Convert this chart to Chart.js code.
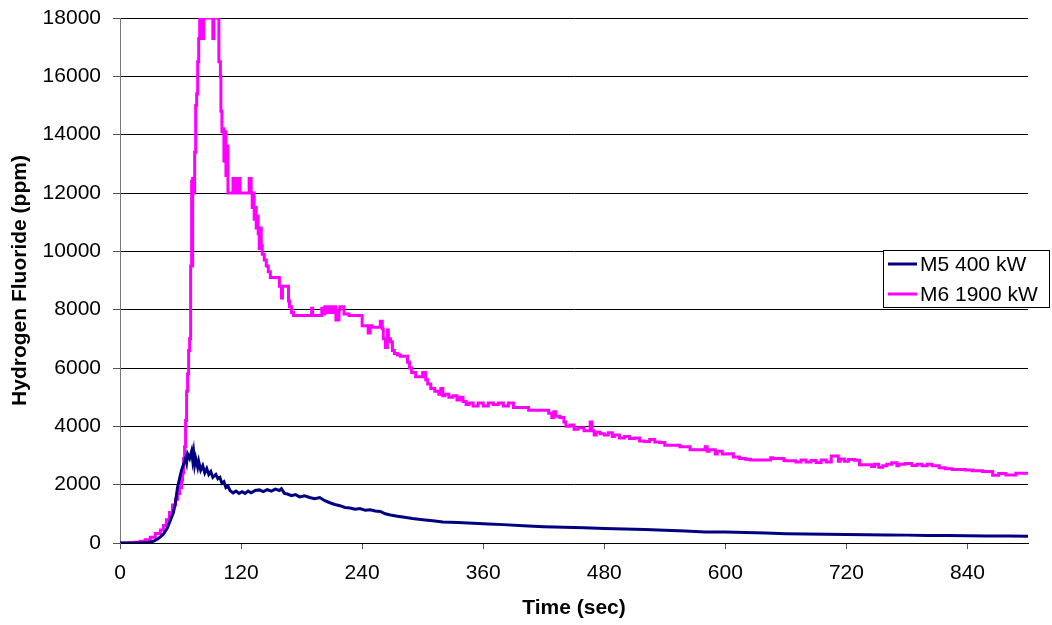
<!DOCTYPE html>
<html>
<head>
<meta charset="utf-8">
<script src="https://cdn.jsdelivr.net/npm/chart.js@4/dist/chart.umd.min.js"></script>
<style>
  html, body { margin: 0; padding: 0; background: #fff; }
  #wrap { width: 1052px; height: 625px; }
</style>
</head>
<body>
<div id="wrap"><canvas id="hfChart" width="1052" height="625"></canvas></div>
<script>
// M5 400 kW (navy)
const m5Time = [0, 20, 28, 33, 38, 43, 47, 50, 53, 55, 57, 59, 61, 63, 65, 66, 67, 69, 71, 72, 73, 74, 75, 77, 78, 80,
  82, 84, 86, 88, 90, 92, 95, 97, 99, 101, 103, 105, 107, 109, 112, 115, 118, 121, 124, 127, 130, 134, 138, 142,
  146, 150, 154, 158, 160, 163, 166, 170, 174, 178, 183, 188, 193, 198, 203, 208, 213, 218, 223, 228, 233, 238,
  243, 248, 253, 258, 263, 268, 275, 282, 290, 300, 310, 320, 335, 350, 365, 380, 400, 420, 440, 460, 480, 500,
  520, 540, 560, 580, 600, 620, 640, 660, 680, 700, 720, 740, 760, 780, 800, 820, 840, 860, 880, 900];
const m5Ppm = [0, 0, 20, 60, 150, 300, 520, 780, 1050, 1400, 1900, 2200, 2500, 2700, 2900, 2750, 3050, 2900, 3150, 2850,
  3100, 2700, 2900, 2600, 2800, 2500, 2650, 2400, 2550, 2350, 2450, 2250, 2350, 2200, 2250, 2050, 2100, 1900,
  1950, 1800, 1720, 1780, 1700, 1760, 1700, 1780, 1720, 1800, 1820, 1760, 1830, 1780, 1850, 1800, 1860, 1700,
  1680, 1620, 1660, 1580, 1620, 1560, 1520, 1560, 1450, 1380, 1320, 1280, 1220, 1200, 1160, 1180, 1120, 1140,
  1100, 1080, 1000, 960, 920, 880, 840, 800, 760, 720, 700, 680, 650, 630, 590, 560, 540, 520, 500, 480, 460,
  440, 410, 380, 380, 360, 340, 320, 310, 300, 290, 280, 275, 270, 260, 255, 250, 240, 240, 235];

// M6 1900 kW (magenta)
const m6Time = [0, 10, 15, 20, 25, 30, 35, 40, 43, 46, 49, 52, 55, 57, 59, 61, 62, 63, 64, 65, 66, 67, 68, 69, 70, 71,
  71.5, 72, 73, 74, 75, 76,
  77, 78, 79, 80, 82, 83, 84, 92, 93, 94, 98, 99.5, 100, 101, 102, 103, 104, 105, 106, 107, 108, 112, 113, 114,
  116, 117, 119, 120, 128, 130, 131, 132, 133, 134, 135, 136, 137, 138, 139, 140, 141, 143, 145, 147, 149, 151,
  158, 160, 161, 162, 167, 168, 170, 172, 175, 190, 191, 193, 200, 201, 203, 205, 207, 209, 212, 214, 217, 218,
  222, 227, 230, 240, 242, 246, 248, 250, 258, 260, 261, 263, 265, 266, 268, 270, 272, 275, 278, 285, 287, 289,
  293, 295, 300, 303, 305, 308, 312, 316, 318, 320, 322, 326, 330, 334, 337, 340, 343, 346, 350, 355, 360, 365,
  370, 375, 380, 385, 390, 393, 405, 406, 425, 428, 430, 432, 436, 440, 442, 446, 450, 454, 460, 466, 468, 470,
  472, 476, 480, 484, 488, 490, 495, 500, 505, 510, 515, 520, 525, 530, 535, 540, 545, 555, 565, 568, 580, 582,
  584, 590, 592, 597, 602, 608, 614, 620, 625, 630, 645, 647, 658, 660, 670, 675, 680, 685, 690, 695, 700, 705,
  712, 714, 718, 722, 728, 733, 736, 745, 748, 752, 756, 760, 765, 770, 772, 778, 785, 790, 795, 800, 805, 812,
  818, 825, 838, 845, 855, 865, 871, 878, 884, 888, 891, 900];
const m6Ppm = [0, 0, 10, 30, 60, 110, 200, 330, 450, 600, 800, 1050, 1300, 1500, 1700, 1900, 2150, 2400, 2900, 3300,
  4200, 5200, 5800, 6600, 7000, 9500,
  12400, 9500, 12500, 12000, 13400, 15000, 15400, 16500, 17300, 18000, 18000, 17300, 18000, 18000, 17300, 18000,
  18000, 16500, 16000, 14800, 14100, 14200, 13100, 14100, 12600, 13600, 12000, 12000, 12500, 12000, 12500, 12000,
  12500, 12000, 12000, 12500, 12000, 11500, 12000, 11100, 11500, 10800, 11200, 10600, 10100, 10800, 10200, 9900,
  9700, 9500, 9300, 9100, 9100, 8800, 8400, 8800, 8800, 8300, 8100, 7900, 7800, 7800, 8050, 7800, 7800, 8050,
  7850, 8100, 7900, 8100, 7900, 8100, 7650, 8000, 8100, 7850, 7800, 7800, 7450, 7450, 7200, 7450, 7400, 7600,
  7350, 7000, 6700, 7300, 7000, 6900, 6600, 6500, 6450, 6400, 6200, 6000, 5850, 5700, 5700, 5850, 5600, 5450,
  5300, 5200, 5100, 5300, 5050, 5100, 5000, 5050, 4900, 5000, 4850, 4750, 4800, 4700, 4800, 4700, 4800, 4750,
  4800, 4700, 4800, 4650, 4650, 4550, 4550, 4450, 4300, 4500, 4350, 4300, 4150, 4000, 4050, 3900, 3950, 3850,
  4150, 3850, 3700, 3800, 3750, 3700, 3780, 3650, 3700, 3600, 3650, 3580, 3600, 3500, 3480, 3550, 3460, 3450,
  3350, 3350, 3300, 3200, 3200, 3300, 3150, 3200, 3050, 3150, 3050, 3060, 2950, 2900, 2870, 2850, 2850, 2920,
  2900, 2830, 2820, 2780, 2850, 2780, 2830, 2760, 2850, 2780, 2980, 2800, 2880, 2800, 2860, 2840, 2680, 2680,
  2620, 2700, 2600, 2650, 2700, 2750, 2650, 2700, 2730, 2660, 2700, 2650, 2700, 2650, 2580, 2550, 2520, 2500,
  2480, 2450, 2320, 2380, 2330, 2330, 2390, 2390];

const xTicks = [0, 120, 240, 360, 480, 600, 720, 840];
const yTicks = [0, 2000, 4000, 6000, 8000, 10000, 12000, 14000, 16000, 18000];

const toPoints = (t, v) => t.map((x, i) => ({ x: x, y: v[i] }));

// legend box sitting over the right part of the plot, like the original
const boxLegend = {
  id: 'boxLegend',
  afterDraw(chart) {
    const c = chart.ctx;
    const left = 883, top = 250, right = 1050, bottom = 308;
    c.save();
    c.fillStyle = '#fff';
    c.fillRect(left, top, right - left, bottom - top);
    c.strokeStyle = '#000';
    c.lineWidth = 1;
    c.strokeRect(left + 0.5, top + 0.5, right - left - 1, bottom - top - 1);
    c.font = '21px "Liberation Sans", Arial, sans-serif';
    c.textBaseline = 'middle';
    chart.data.datasets.forEach((ds, i) => {
      const y = 264 + i * 30;
      c.strokeStyle = ds.borderColor;
      c.lineWidth = 3;
      c.beginPath();
      c.moveTo(888, y);
      c.lineTo(917, y);
      c.stroke();
      c.fillStyle = '#000';
      c.fillText(ds.label, 920, y + 1);
    });
    c.restore();
  }
};

const tickFont = { family: '"Liberation Sans", Arial, sans-serif', size: 21 };
const titleFont = { family: '"Liberation Sans", Arial, sans-serif', size: 21, weight: 'bold' };

new Chart(document.getElementById('hfChart'), {
  type: 'line',
  data: {
    datasets: [
      {
        label: 'M5 400 kW',
        data: toPoints(m5Time, m5Ppm),
        borderColor: '#000080',
        borderWidth: 3,
        pointRadius: 0,
        tension: 0
      },
      {
        label: 'M6 1900 kW',
        data: toPoints(m6Time, m6Ppm),
        borderColor: '#ff00ff',
        borderWidth: 3,
        pointRadius: 0,
        stepped: 'after'
      }
    ]
  },
  options: {
    responsive: false,
    animation: false,
    layout: { padding: { top: 18, right: 24, left: 0, bottom: 0 } },
    plugins: {
      legend: { display: false },
      tooltip: { enabled: false }
    },
    scales: {
      x: {
        type: 'linear',
        min: 0,
        max: 900,
        afterBuildTicks: s => { s.ticks = xTicks.map(v => ({ value: v })); },
        afterFit: s => { s.height = 82; s.paddingLeft = 0; s.paddingRight = 0; },
        grid: { drawOnChartArea: false, drawTicks: true, tickLength: 6, tickColor: '#555' },
        border: { color: '#000', width: 1 },
        ticks: { color: '#000', font: tickFont, padding: 12, maxRotation: 0, callback: v => String(v) },
        title: { display: true, text: 'Time (sec)', color: '#000', font: titleFont, padding: { top: 0, bottom: 4 } }
      },
      y: {
        min: 0,
        max: 18000,
        afterBuildTicks: s => { s.ticks = yTicks.map(v => ({ value: v })); },
        afterFit: s => { s.width = 120; s.paddingTop = 0; s.paddingBottom = 0; },
        grid: { color: '#000', lineWidth: 1, drawTicks: true, tickLength: 7, tickColor: '#555' },
        border: { color: '#777', width: 1 },
        ticks: { color: '#000', font: tickFont, padding: 12, callback: v => String(v) },
        title: { display: true, text: 'Hydrogen Fluoride (ppm)', color: '#000', font: titleFont, padding: { top: 8, bottom: 0 } }
      }
    }
  },
  plugins: [boxLegend]
});
</script>
</body>
</html>
